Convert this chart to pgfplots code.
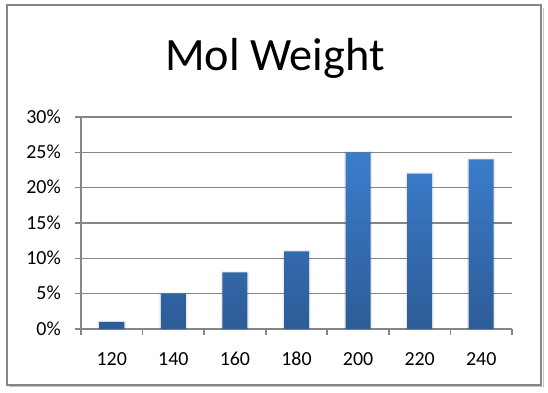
\documentclass[border=0pt]{standalone}
\usepackage{pgfplots}
\pgfplotsset{compat=1.18}
\usepackage{fontspec}
\setmainfont{Carlito}
\definecolor{gridgray}{HTML}{868686}
\definecolor{bartop}{HTML}{3B7DCC}
\definecolor{barbot}{HTML}{2D5C97}
\begin{document}
\begin{tikzpicture}[x=1bp,y=1bp]
\path[use as bounding box] (0,0) rectangle (548,392);
\draw[gridgray!50, line width=1bp] (9,5.5) -- (543,5.5) -- (543,384);
\draw[gridgray, line width=2bp] (7,7) rectangle (541,386.5);
\node[font=\fontsize{46.5}{54}\selectfont, anchor=base] at (275,322) {Mol Weight};
\begin{axis}[
  at={(81bp,63bp)}, anchor=south west,
  scale only axis, width=431bp, height=212bp,
  xmin=-0.5, xmax=6.5, ymin=0, ymax=30,
  axis x line*=bottom, axis y line*=left,
  axis line style={gridgray, line width=1.6bp, -},
  xtick={-0.5,0.5,1.5,2.5,3.5,4.5,5.5,6.5},
  x tick label as interval,
  xticklabels={120,140,160,180,200,220,240},
  ytick={0,5,...,30},
  yticklabel={\pgfmathprintnumber{\tick}\%},
  tick align=outside, major tick length=6bp,
  tick style={gridgray, line width=1.6bp},
  ymajorgrids, grid style={gridgray, line width=1.6bp},
  /pgf/number format/assume math mode=true,
  tick label style={font=\fontsize{20}{24}\selectfont, text=black},
  xticklabel style={anchor=base, inner sep=0pt, yshift=-30bp},
  yticklabel style={anchor=base east, inner sep=0pt, xshift=-14bp, yshift=-6bp},
  xtick pos=bottom, ytick pos=left,
  clip=false,
]
\addplot[ybar, bar width=28bp, bar shift=0pt, draw=none, fill=black, fill opacity=0.08] coordinates {(0,1.15) (1,5.15) (2,8.15) (3,11.15) (4,25.15) (5,22.15) (6,24.15)};
\addplot[ybar, bar width=25bp, bar shift=0pt, draw=none, top color=bartop, bottom color=barbot] coordinates {(0,1) (1,5) (2,8) (3,11) (4,25) (5,22) (6,24)};
\end{axis}
\end{tikzpicture}
\end{document}
